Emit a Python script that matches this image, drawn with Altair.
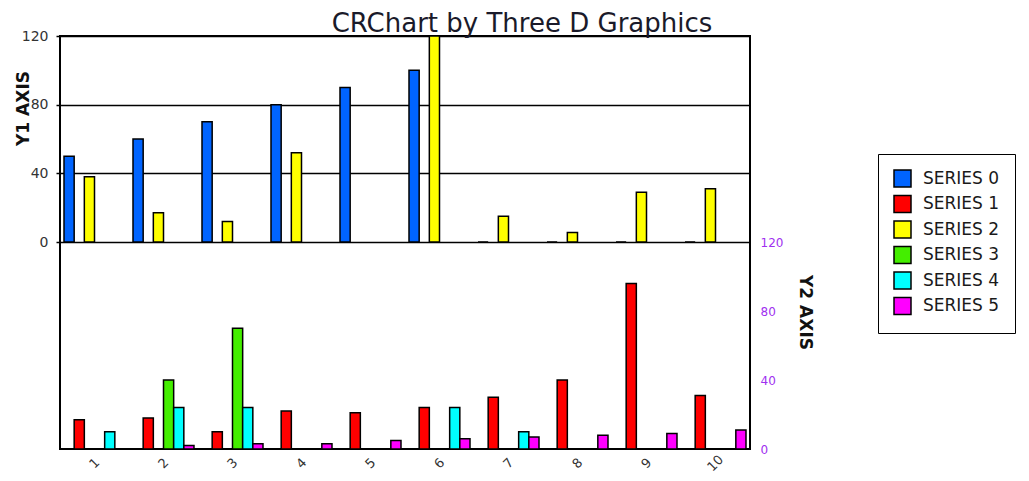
import altair as alt
import pandas as pd

categories = [1, 2, 3, 4, 5, 6, 7, 8, 9, 10]
series_names = ["SERIES 0", "SERIES 1", "SERIES 2", "SERIES 3", "SERIES 4", "SERIES 5"]
series_colors = ["#0064ff", "#ff0000", "#ffff00", "#44ee00", "#00ffff", "#ff00ff"]

# Top panel (Y1 axis)
s0 = [50, 60, 70, 80, 90, 100, 0, 0, 0, 0]
s2 = [38, 17, 12, 52, None, 120, 15, 5.5, 29, 31]
# Bottom panel (Y2 axis)
s1 = [17, 18, 10, 22, 21, 24, 30, 40, 96, 31]
s3 = [None, 40, 70, None, None, None, None, None, None, None]
s4 = [10, 24, 24, None, None, 24, 10, None, None, None]
s5 = [0, 2, 3, 3, 5, 6, 7, 8, 9, 11]

y_ticks = [0, 40, 80, 120]


def long(series):
    rows = []
    for name, vals in series:
        for c, v in zip(categories, vals):
            if v is not None:
                rows.append({"cat": c, "series": name, "value": v})
    return pd.DataFrame(rows)


top_df = long([("SERIES 0", s0), ("SERIES 2", s2)])
bot_df = long([("SERIES 1", s1), ("SERIES 3", s3), ("SERIES 4", s4), ("SERIES 5", s5)])

FONT = "DejaVu Sans"
W, H_TOP, H = 690, 206, 413

x_enc = alt.X(
    "cat:O",
    sort=categories,
    scale=alt.Scale(paddingInner=0.116, paddingOuter=0.058),
    axis=alt.Axis(
        title=None, labelAngle=-45, labelAlign="center", labelBaseline="middle",
        labelPadding=14, ticks=False, domain=False, labelFont=FONT,
        labelFontSize=13, labelColor="#333333",
    ),
)
xoff = alt.XOffset("series:N", scale=alt.Scale(domain=series_names, paddingInner=0, paddingOuter=0))
color = alt.Color(
    "series:N",
    scale=alt.Scale(domain=series_names, range=series_colors),
    legend=alt.Legend(
        title=None, orient="none", legendX=818, legendY=118, padding=15,
        strokeColor="black", fillColor="white", symbolType="square", symbolSize=289,
        symbolStrokeColor="black", symbolStrokeWidth=1.5, symbolOpacity=1,
        labelFont=FONT, labelFontSize=17, labelColor="#1a1a1a", labelOffset=11,
        rowPadding=2.5,
    ),
)

top = alt.Chart(top_df).mark_bar(stroke="black", strokeWidth=1.5, opacity=1).encode(
    x=x_enc,
    xOffset=xoff,
    y=alt.Y(
        "value:Q",
        scale=alt.Scale(domain=[0, 120], range=[H_TOP, 0], nice=False),
        axis=alt.Axis(
            orient="left", values=y_ticks, grid=True, gridColor="black", gridWidth=1.5,
            gridOpacity=1, domain=False, tickSize=4, tickColor="black", tickWidth=1.5,
            labelFont=FONT, labelFontSize=14, labelColor="#333333", labelPadding=8,
            title="Y1 AXIS", titleFont=FONT, titleFontSize=17, titleFontWeight="bold",
            titleColor="#111111", titleAngle=-90, titleX=-37, titleY=72,
            titleAlign="center", titleBaseline="middle",
        ),
    ),
    color=color,
)

bottom = alt.Chart(bot_df).mark_bar(stroke="black", strokeWidth=1.5, opacity=1).encode(
    x=x_enc,
    xOffset=xoff,
    y=alt.Y(
        "value:Q",
        scale=alt.Scale(domain=[0, 120], range=[H, H_TOP], nice=False),
        axis=alt.Axis(
            orient="right", values=y_ticks, grid=False, domain=False, ticks=False,
            labelFont=FONT, labelFontSize=12, labelColor="#a030f0", labelPadding=10,
            title="Y2 AXIS", titleFont=FONT, titleFontSize=17, titleFontWeight="bold",
            titleColor="#111111", titleAngle=90, titleX=54, titleY=276,
            titleAlign="center", titleBaseline="middle",
        ),
    ),
    color=color,
)

chart = (
    alt.layer(top, bottom)
    .resolve_scale(y="independent")
    .properties(
        width=W,
        height=H,
        background="white",
        padding={"left": 5, "top": 3, "right": 0, "bottom": 0},
        title=alt.TitleParams(
            "CRChart by Three D Graphics", font=FONT, fontSize=26, fontWeight="normal",
            color="#1a1a2a", anchor="middle", frame="group", dx=117, offset=-8,
        ),
    )
    .configure_view(stroke="black", strokeWidth=2)
)

chart.save("out.html", embed_options={"renderer": "svg", "actions": False})
